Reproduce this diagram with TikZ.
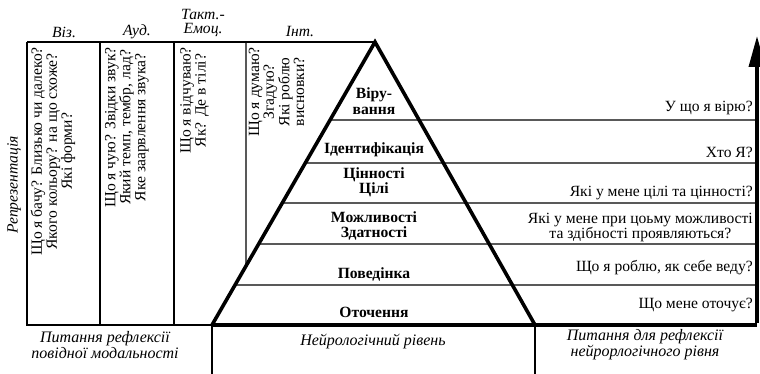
\documentclass[tikz,border=0pt]{standalone}
\usepackage{fontspec}
\setmainfont{Liberation Serif}
\usetikzlibrary{arrows.meta,calc}
\begin{document}
\begin{tikzpicture}[x=1pt,y=-1pt,
  thinline/.style={line width=1.2pt},
  thickline/.style={line width=3.6pt},
  txt/.style={font=\fontsize{15.6}{15}\selectfont, inner sep=0pt},
  hdr/.style={txt, font=\fontsize{15.6}{14.5}\selectfont\itshape, align=center},
  coltext/.style={txt, rotate=90, anchor=east, align=center},
  lvl/.style={txt, font=\fontsize{15.6}{15}\selectfont\bfseries, align=center},
  qtext/.style={txt, anchor=east, align=center},
  foot/.style={txt, font=\fontsize{16}{14.5}\selectfont\itshape, align=center}]
\useasboundingbox (0,0) rectangle (760,374);
\fill[white] (0,0) rectangle (760,374);
% key points
\coordinate (A) at (375,42);
\coordinate (BL) at (212,325);
\coordinate (BR) at (535,325);
\coordinate (TL) at (27,42);
\coordinate (LB) at (27,325);
\coordinate (AB) at (757,325);
\coordinate (AT) at (757,36);
% left box
\draw[thinline] (TL) -- (A);
\draw[thinline] (TL) -- (LB) -- (BL);
\coordinate (c1t) at (100,42); \coordinate (c1b) at (100,325);
\coordinate (c2t) at (174,42); \coordinate (c2b) at (174,325);
\coordinate (c3t) at (246,42); \coordinate (c3b) at ($(A)!0.791!(BL)$);
\draw[thinline] (c1t) -- (c1b);
\draw[thinline] (c2t) -- (c2b);
\draw[thinline] (c3t) -- (c3b);
% level lines
\foreach \yy/\nm in {120/l1,163/l2,203/l3,244/l4,285/l5}{
  \coordinate (\nm a) at ($(A)!{(\yy-42)/283}!(BL)$);
  \coordinate (\nm b) at (757,\yy);
  \draw[thinline] (\nm a) -- (\nm b);
}
% bottom verticals
\coordinate (d1) at (212,374); \coordinate (d2) at (535,374);
\draw[thinline] (BL) -- (d1);
\draw[thinline] (BR) -- (d2);
% pyramid
\draw[thickline, line join=miter] (BL) -- (A) -- (BR);
\draw[thickline] (BL) -- (AB);
\draw[thickline, -{Triangle[length=31pt,width=16pt]}] ([yshift=1.8pt]AB) -- (AT);
% headers
\node[hdr] (hviz) at (64,32) {Віз.};
\node[hdr] (haud) at (137,32) {Ауд.};
\node[hdr] (htakt) at (203,23) {Такт.-\\Емоц.};
\node[hdr] (hint) at (300,32) {Інт.};
% rotated column texts
\node[hdr, rotate=90] (repr) at (14,185) {Репрезентація};
\node[coltext] (tviz) at (53,47) {Що я бачу? Близько чи далеко?\\Якого кольору? на що схоже?\\Які форми?};
\node[coltext] (taud) at (127,47) {Що я чую? Звідки звук?\\Який темп, тембр, лад?\\Яке заарвлення звука?};
\node[coltext] (ttakt) at (194.5,47) {Що я відчуваю?\\Як? Де в тілі?};
\node[coltext, font=\fontsize{15.6}{12.8}\selectfont] (tint) at (276.5,47) {Що я думаю?\\Згадую?\\Які роблю\\висновки?};
% pyramid levels
\node[lvl, font=\fontsize{15.6}{16}\selectfont\bfseries] (v1) at (374,101) {Віру-\\вання};
\node[lvl] (v2) at (374,150) {Ідентифікація};
\node[lvl] (v3) at (374,182) {Цінності\\Цілі};
\node[lvl] (v4) at (374,226) {Можливості\\Здатності};
\node[lvl] (v5) at (374,274) {Поведінка};
\node[lvl] (v6) at (374,312) {Оточення};
% questions
\node[qtext] (q1) at (753,108) {У що я вірю?};
\node[qtext] (q2) at (753,152) {Хто Я?};
\node[qtext] (q3) at (753,193) {Які у мене цілі та цінності?};
\node[qtext] (q4) at (753,227) {Які у мене при цоьму можливості\\та здібності проявляються?};
\node[qtext] (q5) at (753,268) {Що я роблю, як себе веду?};
\node[qtext] (q6) at (753,305) {Що мене оточує?};
% footers
\node[foot] (f1) at (105,345) {Питання рефлексії\\повідної модальності};
\node[foot] (f2) at (373,342) {Нейрологічний рівень};
\node[foot] (f3) at (645,345) {Питання для рефлексії\\нейрорлогічного рівня};
\end{tikzpicture}
\end{document}
